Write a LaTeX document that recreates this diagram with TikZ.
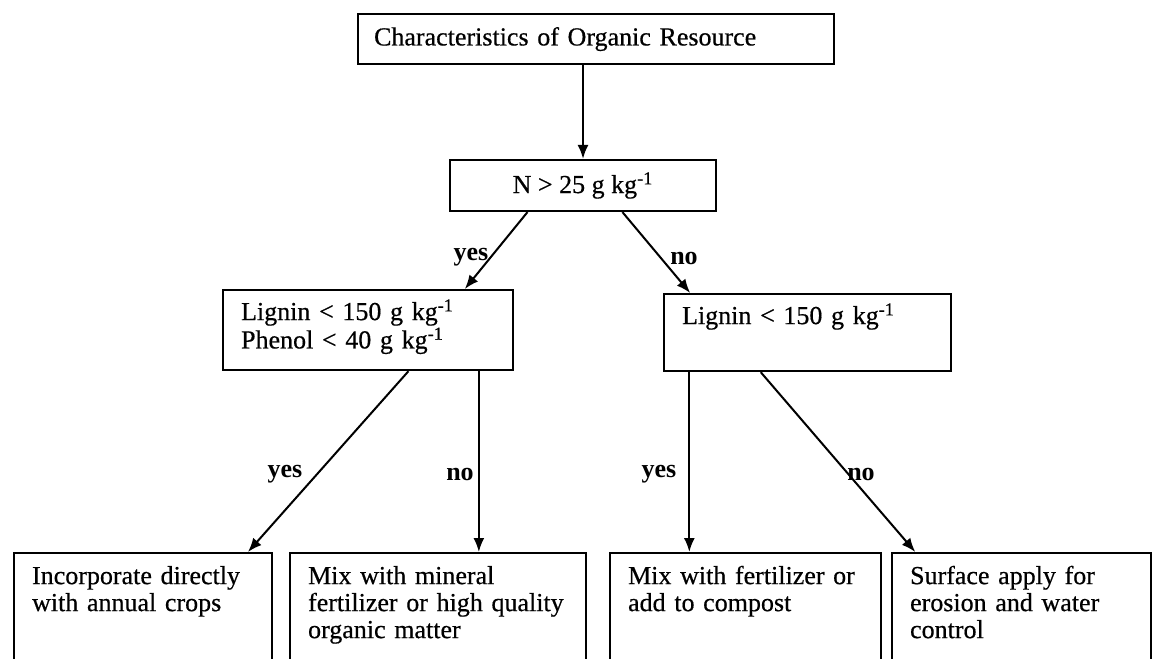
\documentclass[tikz,border=0pt]{standalone}
\usepackage{fontspec}
\setmainfont{Liberation Serif}[UprightFeatures={FakeBold=0.5}]
\usetikzlibrary{calc,arrows.meta}
\begin{document}
\begin{tikzpicture}[x=0.5pt,y=-0.5pt,
  box/.style={draw, line width=1.1pt, anchor=north west, inner sep=0pt,
    font=\fontsize{13}{15}\selectfont},
  lowbox/.style={box, align=left, inner xsep=9pt, text height=15.5pt, text depth=58.5pt,
    font=\fontsize{13}{13.5}\selectfont},
  arr/.style={line width=1pt, -{Latex[length=7pt,width=5.5pt]}},
  lab/.style={font=\fontsize{13}{15}\selectfont\bfseries, inner sep=0pt}]
\useasboundingbox (0,0) rectangle (1154,658);
\fill[white] (0,0) rectangle (1154,658);

% boxes
\node[box, minimum width=238pt, minimum height=25pt, text width=222pt,
  inner xsep=8pt, align=left] (top) at (357,13) {Characteristics of Organic Resource};
\node[box, anchor=center, minimum width=133pt, minimum height=25.5pt] (n) at (583,185.5)
  {N > 25 g kg\textsuperscript{-1}};
\node[box, text width=127pt, inner xsep=9pt, align=left, text height=15pt, text depth=25pt,
  font=\fontsize{13}{12.5}\selectfont] (l1) at (222,289)
  {Lignin < 150 g kg\textsuperscript{-1}\\Phenol < 40 g kg\textsuperscript{-1}};
\node[box, text width=125.5pt, inner xsep=9pt, align=left, text height=15pt, text depth=23.5pt]
  (l2) at (663,293) {Lignin < 150 g kg\textsuperscript{-1}};

\node[lowbox, text width=111pt] (b1) at (13,552)
  {\mbox{Incorporate directly}\\\mbox{with annual crops}};
\node[lowbox, text width=130pt] (b2) at (289,552)
  {\mbox{Mix with mineral}\\\mbox{fertilizer or high quality}\\\mbox{organic matter}};
\node[lowbox, text width=117.5pt] (b3) at (609,552)
  {\mbox{Mix with fertilizer or}\\\mbox{add to compost}};
\node[lowbox, text width=111.5pt] (b4) at (891,552)
  {\mbox{Surface apply for}\\\mbox{erosion and water}\\\mbox{control}};

% connectors
\draw[arr] (top.south -| n.north) -- (n.north);
\draw[arr] ($(n.south west)!0.293!(n.south east)$) -- ($(l1.north west)!0.831!(l1.north east)$);
\draw[arr] ($(n.south west)!0.647!(n.south east)$) -- ($(l2.north west)!0.094!(l2.north east)$);
\draw[arr] ($(l1.south west)!0.638!(l1.south east)$) -- ($(b1.north west)!0.903!(b1.north east)$);
\coordinate (l1no) at ($(l1.south west)!0.879!(l1.south east)$);
\draw[arr] (l1no) -- (l1no |- b2.north);
\coordinate (l2yes) at ($(l2.south west)!0.091!(l2.south east)$);
\draw[arr] (l2yes) -- (l2yes |- b3.north);
\draw[arr] ($(l2.south west)!0.338!(l2.south east)$) -- ($(b4.north west)!0.093!(b4.north east)$);

% labels
\node[lab] (y1) at (471,257) {yes};
\node[lab] (n1) at (684,258) {no};
\node[lab] (y2) at (285,474) {yes};
\node[lab] (n2) at (460,474) {no};
\node[lab] (y3) at (659,474) {yes};
\node[lab] (n3) at (861,474) {no};
\end{tikzpicture}
\end{document}
